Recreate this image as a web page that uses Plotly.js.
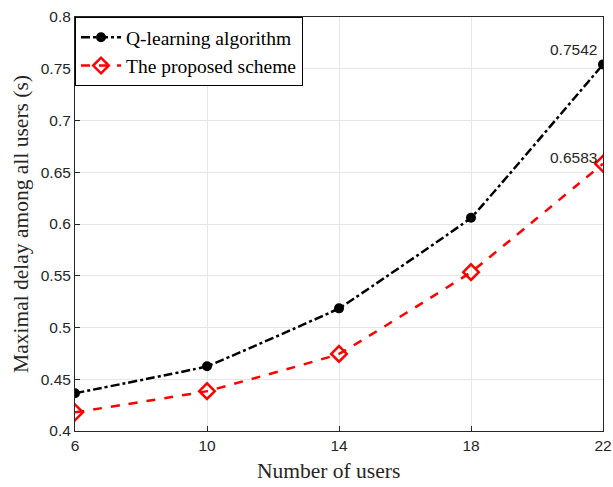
<!DOCTYPE html>
<html>
<head>
<meta charset="utf-8">
<script src="https://cdn.plot.ly/plotly-3.0.1.min.js"></script>
<style>html,body{margin:0;padding:0;background:#fff}#chart{width:613px;height:487px}</style>
</head>
<body>
<div id="chart"></div>
<script>
const users = [6, 10, 14, 18, 22];
const qLearning = [0.4365, 0.4625, 0.5185, 0.6060, 0.7542];
const proposed = [0.4180, 0.4385, 0.4745, 0.5535, 0.6583];
const yTicks = [0.4, 0.45, 0.5, 0.55, 0.6, 0.65, 0.7, 0.75, 0.8];
const yTickText = ['0.4', '0.45', '0.5', '0.55', '0.6', '0.65', '0.7', '0.75', '0.8'];
const xTitle = 'Number of users';
const yTitle = 'Maximal delay among all users (s)';

const sans = 'Liberation Sans, Arial, sans-serif';
const serif = 'Liberation Serif, Times New Roman, serif';

const traces = [
  {x: users, y: qLearning, name: 'Q-learning algorithm', mode: 'lines+markers',
   line: {color: '#000000', width: 2.5, dash: 'dashdot', shape: 'spline', smoothing: 0.15},
   marker: {symbol: 'circle', size: 10, color: '#000000'}},
  {x: users, y: proposed, name: 'The proposed scheme', mode: 'lines+markers',
   line: {color: '#ff0000', width: 2.5, dash: 'dash', shape: 'spline', smoothing: 0.15},
   marker: {symbol: 'diamond-open', size: 12, color: '#ff0000', line: {width: 2.5, color: '#ff0000'}}}
];

const layout = {
  width: 613, height: 487,
  margin: {l: 75, r: 10, t: 17, b: 56},
  paper_bgcolor: '#ffffff', plot_bgcolor: '#ffffff',
  showlegend: true,
  legend: {x: 0, y: 1, xanchor: 'left', yanchor: 'top', bgcolor: '#ffffff',
    bordercolor: '#000000', borderwidth: 1,
    font: {family: serif, size: 19.5, color: '#000'},
    tracegroupgap: 0, itemwidth: 40},
  xaxis: {range: [6, 22], tickvals: users, ticktext: users.map(String),
    showgrid: true, gridcolor: '#e6e6e6', gridwidth: 1,
    showline: true, linecolor: '#262626', linewidth: 1, mirror: true,
    ticks: 'inside', ticklen: 5, tickcolor: '#262626', zeroline: false,
    tickfont: {family: sans, size: 15.5, color: '#262626'}},
  yaxis: {range: [0.4, 0.8], tickvals: yTicks, ticktext: yTickText,
    showgrid: true, gridcolor: '#e6e6e6', gridwidth: 1,
    showline: true, linecolor: '#262626', linewidth: 1, mirror: true,
    ticks: 'inside', ticklen: 5, tickcolor: '#262626', zeroline: false,
    tickfont: {family: sans, size: 15.5, color: '#262626'},
    title: {text: yTitle, standoff: 6,
      font: {family: serif, size: 21.5, color: '#262626'}}},
  annotations: [
    {x: 0.48, y: 0, xref: 'paper', yref: 'paper', text: xTitle, showarrow: false,
     xanchor: 'center', yanchor: 'top', yshift: -26,
     font: {family: serif, size: 21.5, color: '#262626'}},
    {x: users[4], y: qLearning[4], text: qLearning[4].toFixed(4), showarrow: false,
     xanchor: 'right', yanchor: 'bottom', xshift: -4, yshift: 4,
     font: {family: sans, size: 15.5, color: '#262626'}},
    {x: users[4], y: proposed[4], text: proposed[4].toFixed(4), showarrow: false,
     xanchor: 'right', yanchor: 'bottom', xshift: -4, yshift: -4,
     font: {family: sans, size: 15.5, color: '#262626'}}
  ]
};

Plotly.newPlot('chart', traces, layout, {displayModeBar: false, staticPlot: true});
</script>
</body>
</html>
